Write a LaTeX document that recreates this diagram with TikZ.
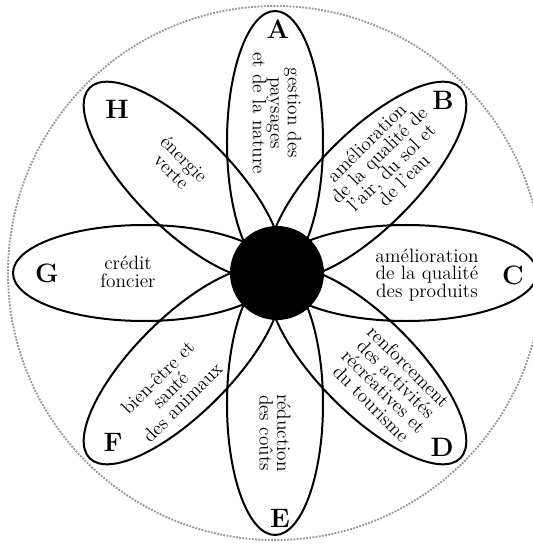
\documentclass[tikz,border=0pt]{standalone}
\usepackage{tikz}
\usetikzlibrary{shapes.geometric}
\definecolor{Ink}{HTML}{000000}
\definecolor{Rim}{HTML}{989898}

\begin{document}
\begin{tikzpicture}[x=0.75pt,y=0.75pt,
  petal/.style={draw=Ink,ellipse,line width=1.5pt,minimum width=196.5pt,minimum height=72pt,inner sep=0pt},
  tag/.style={text=Ink,font=\bfseries\fontsize{20}{22}\selectfont,inner sep=0pt},
  words/.style={text=Ink,align=center,font=\fontsize{14.5}{13.2}\selectfont,inner sep=0pt}]
\useasboundingbox (-275,-271) rectangle (258,273);
\clip (-275,-271) rectangle (258,273);
% outer rim
\draw[Rim,line width=1.4pt,densely dotted] (0,0) circle (267);
% petals
\node[petal,rotate=90] (pA) at (90:131) {};
\node[petal,rotate=45] (pB) at (45:131) {};
\node[petal,rotate=0] (pC) at (0:131) {};
\node[petal,rotate=-45] (pD) at (-45:131) {};
\node[petal,rotate=-90] (pE) at (-90:131) {};
\node[petal,rotate=-135] (pF) at (-135:131) {};
\node[petal,rotate=180] (pG) at (180:131) {};
\node[petal,rotate=135] (pH) at (135:131) {};
% heart
\fill[Ink] (2,0) circle (47);
% letters
\node[tag] (lA) at (3,244) {A};
\node[tag] (lB) at (168,173) {B};
\node[tag] (lC) at (238,-2) {C};
\node[tag] (lD) at (167,-174) {D};
\node[tag] (lE) at (5,-245) {E};
\node[tag] (lF) at (-162,-169) {F};
\node[tag] (lG) at (-228,0) {G};
\node[tag] (lH) at (-158,164) {H};
% texts
\node[words,rotate=-90] (tA) at (2,160) {gestion des\\paysages\\et de la nature};
\node[words,rotate=45] (tB) at (110,112) {amélioration\\de la qualité de\\l'air, du sol et\\de l'eau};
\node[words] (tC) at (152,-2) {amélioration\\de la qualité\\des produits};
\node[words,rotate=-45] (tD) at (115,-112) {renforcement\\des activités\\récréatives et\\du tourisme};
\node[words,rotate=-90] (tE) at (0,-160) {réduction\\des coûts};
\node[words,rotate=45] (tF) at (-105,-117) {bien-être et\\santé\\des animaux};
\node[words] (tG) at (-147,1) {crédit\\foncier};
\node[words,rotate=-45] (tH) at (-97,108) {énergie\\verte};
\end{tikzpicture}
\end{document}
